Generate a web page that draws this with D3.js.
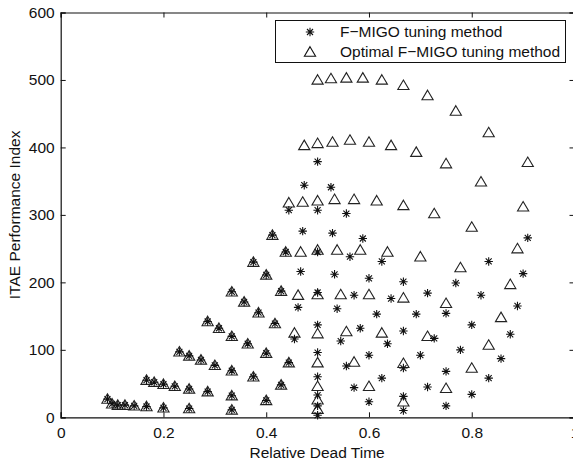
<!DOCTYPE html>
<html>
<head>
<meta charset="utf-8">
<script src="https://cdn.jsdelivr.net/npm/d3@7"></script>
<style>
  html, body { margin: 0; padding: 0; background: #fff; }
  svg { display: block; font-family: "Liberation Sans", Arial, Helvetica, sans-serif; }
</style>
</head>
<body>
<svg id="chart" width="573" height="463"></svg>
<script>
// Relative dead time of each test process (one row per dead time, ten time constants each)
const relDeadTime = [
  [0.091, 0.100, 0.111, 0.125, 0.143, 0.167, 0.200, 0.250, 0.333, 0.500],
  [0.167, 0.182, 0.200, 0.222, 0.250, 0.286, 0.333, 0.400, 0.500, 0.667],
  [0.231, 0.250, 0.273, 0.300, 0.333, 0.375, 0.429, 0.500, 0.600, 0.750],
  [0.286, 0.308, 0.333, 0.364, 0.400, 0.444, 0.500, 0.571, 0.667, 0.800],
  [0.333, 0.357, 0.385, 0.417, 0.455, 0.500, 0.556, 0.625, 0.714, 0.833],
  [0.375, 0.400, 0.429, 0.462, 0.500, 0.545, 0.600, 0.667, 0.750, 0.857],
  [0.412, 0.438, 0.467, 0.500, 0.538, 0.583, 0.636, 0.700, 0.778, 0.875],
  [0.444, 0.471, 0.500, 0.533, 0.571, 0.615, 0.667, 0.727, 0.800, 0.889],
  [0.474, 0.500, 0.529, 0.563, 0.600, 0.643, 0.692, 0.750, 0.818, 0.900],
  [0.500, 0.526, 0.556, 0.588, 0.625, 0.667, 0.714, 0.769, 0.833, 0.909]
];

// ITAE obtained with the F-MIGO tuning rule
const itaeFmigo = [
  [27, 20, 18, 18, 17, 16, 14, 13, 11, 3],
  [55, 52, 49, 46, 42, 38, 32, 25, 17, 10],
  [97, 91, 85, 77, 69, 60, 48, 33, 23, 17],
  [142, 132, 120, 109, 95, 81, 60, 44, 31, 34],
  [186, 171, 155, 139, 116, 96, 76, 58, 45, 58],
  [230, 211, 187, 163, 137, 113, 92, 73, 68, 87],
  [270, 245, 216, 185, 161, 132, 109, 92, 100, 123],
  [307, 276, 245, 212, 181, 153, 128, 117, 137, 165],
  [344, 307, 273, 238, 206, 176, 153, 154, 181, 213],
  [379, 341, 302, 265, 231, 201, 184, 199, 231, 266]
];

// ITAE obtained with the optimal F-MIGO tuning
const itaeOptimal = [
  [27, 20, 18, 18, 17, 16, 14, 13, 11, 12],
  [55, 52, 49, 46, 42, 38, 32, 25, 26, 23],
  [97, 91, 85, 77, 69, 60, 48, 46, 46, 43],
  [142, 132, 120, 109, 95, 81, 81, 82, 80, 73],
  [186, 171, 155, 139, 125, 124, 127, 125, 120, 107],
  [230, 211, 187, 181, 182, 182, 182, 177, 169, 148],
  [270, 245, 245, 248, 248, 248, 245, 238, 222, 197],
  [318, 319, 321, 323, 323, 321, 314, 302, 282, 250],
  [403, 406, 408, 411, 408, 403, 393, 376, 349, 312],
  [500, 502, 503, 503, 500, 492, 477, 454, 422, 378]
];

const xTicks = [0, 0.2, 0.4, 0.6, 0.8, 1];
const yTicks = [0, 100, 200, 300, 400, 500, 600];
const legendLabels = ["F\u2212MIGO tuning method", "Optimal F\u2212MIGO tuning method"];
const xTitle = "Relative Dead Time";
const yTitle = "ITAE Performance Index";

const svg = d3.select("#chart");
const plot = { left: 60.7, right: 574.5, top: 12.5, bottom: 417.3 };

const x = d3.scaleLinear().domain([0, 1]).range([plot.left, plot.right]);
const y = d3.scaleLinear().domain([0, 600]).range([plot.bottom, plot.top]);

const tickLen = 5;
const axisColor = "#111";
const fontSize = "15.5px";

// Axes: ticks point inwards, mirrored on top and right
const bottomAxis = d3.axisBottom(x).tickValues(xTicks).tickSize(-tickLen).tickPadding(10)
  .tickFormat(d => d === 0 ? "0" : d === 1 ? "1" : d3.format(".1f")(d));
const topAxis = d3.axisTop(x).tickValues(xTicks).tickSize(-tickLen).tickFormat("");
const leftAxis = d3.axisLeft(y).tickValues(yTicks).tickSize(-tickLen).tickPadding(6)
  .tickFormat(d3.format("d"));
const rightAxis = d3.axisRight(y).tickValues(yTicks).tickSize(-tickLen).tickFormat("");

function styleAxis(g) {
  g.select(".domain").attr("stroke", axisColor).attr("stroke-width", 1.2);
  g.selectAll(".tick line").attr("stroke", axisColor);
  g.selectAll(".tick text").attr("fill", "#111").style("font-size", fontSize)
    .style("font-family", "'Liberation Sans', Arial, sans-serif");
}

svg.append("g").attr("transform", `translate(0,${plot.bottom})`).call(bottomAxis).call(styleAxis);
svg.append("g").attr("transform", `translate(0,${plot.top})`).call(topAxis).call(styleAxis);
svg.append("g").attr("transform", `translate(${plot.left},0)`).call(leftAxis).call(styleAxis);
svg.append("g").attr("transform", `translate(${plot.right},0)`).call(rightAxis).call(styleAxis);

// Axis titles
svg.append("text")
  .attr("x", (plot.left + plot.right) / 2 - 0.5).attr("y", 458)
  .attr("text-anchor", "middle").style("font-size", fontSize).attr("fill", "#111")
  .text(xTitle);
svg.append("text")
  .attr("transform", `translate(20,${(plot.top + plot.bottom) / 2}) rotate(-90)`)
  .attr("text-anchor", "middle").style("font-size", fontSize).attr("fill", "#111")
  .text(yTitle);

// Marker shapes
const triPath = "M0,-5.3L5.6,4.2L-5.6,4.2Z";
const starPath = "M-4.2,0H4.2M0,-4.2V4.2M-3,-3L3,3M-3,3L3,-3";

const points = (vals) => relDeadTime.flatMap((row, i) => row.map((t, j) => ({ t, v: vals[i][j] })));

const markers = svg.append("g");
markers.selectAll("path.opt")
  .data(points(itaeOptimal))
  .join("path")
  .attr("class", "opt")
  .attr("d", triPath)
  .attr("transform", d => `translate(${x(d.t)},${y(d.v)})`)
  .attr("fill", "none").attr("stroke", "#222").attr("stroke-width", 1.1);

markers.selectAll("path.fm")
  .data(points(itaeFmigo))
  .join("path")
  .attr("class", "fm")
  .attr("d", starPath)
  .attr("transform", d => `translate(${x(d.t)},${y(d.v)})`)
  .attr("fill", "none").attr("stroke", "#111").attr("stroke-width", 1.1);

// Legend
const legend = svg.append("g");
legend.append("rect")
  .attr("x", 275.5).attr("y", 20.5).attr("width", 290).attr("height", 42)
  .attr("fill", "#fff").attr("stroke", "#111").attr("stroke-width", 1);
const legendShapes = [starPath, triPath];
legendLabels.forEach((label, i) => {
  const cy = 32 + i * 20;
  legend.append("path").attr("d", legendShapes[i])
    .attr("transform", `translate(310,${cy})`)
    .attr("fill", "none").attr("stroke", "#111").attr("stroke-width", 1.1);
  legend.append("text").attr("x", 340).attr("y", cy + 5)
    .style("font-size", fontSize).attr("fill", "#111").text(label);
});
</script>
</body>
</html>
